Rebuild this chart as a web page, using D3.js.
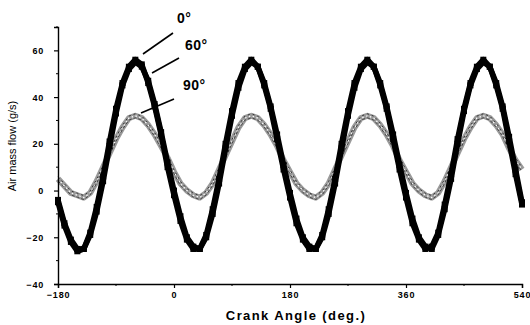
<!DOCTYPE html>
<html>
<head>
<meta charset="utf-8">
<script src="https://cdn.jsdelivr.net/npm/d3@7/dist/d3.min.js"></script>
<style>
  html, body { margin: 0; padding: 0; background: #fff; }
  svg { display: block; }
  text { font-family: Arial, "Liberation Sans", sans-serif; fill: #000; }
</style>
</head>
<body>
<svg id="chart" width="530" height="325"></svg>
<script>
// Crank angle samples (deg.), every 10 degrees
const angles = d3.range(-180, 541, 10);

// Air mass flow (g/s) for each valve phase setting
const flow0 = [
  -4, -14, -21, -25, -25, -19, -9, 4, 19, 33, 45, 52, 55, 53, 47, 37, 25, 12, 0, -11,
  -20, -24, -25, -20, -10, 3, 18, 32, 44, 52, 55, 53, 46, 36, 24, 11, -1, -12, -20, -24,
  -25, -20, -10, 3, 18, 32, 44, 52, 55, 53, 46, 36, 24, 11, -1, -12, -20, -24, -25, -19,
  -8, 5, 20, 34, 45, 52, 55, 53, 46, 36, 23, 9, -5
];
const flow60 = [
  -5, -15, -22, -26, -25, -18, -7, 6, 21, 35, 46, 53, 56, 54, 46, 36, 24, 10, -2, -13,
  -21, -25, -25, -19, -8, 5, 20, 34, 46, 53, 56, 53, 45, 35, 22, 9, -3, -14, -21, -25,
  -25, -19, -8, 5, 20, 34, 46, 53, 56, 53, 45, 35, 22, 9, -3, -14, -21, -25, -24, -18,
  -6, 7, 22, 35, 46, 53, 56, 53, 45, 35, 21, 7, -6
];
const flow90 = [
  5, 2, -1, -2, -3, -1, 4, 10, 16, 22, 27, 31, 32, 31, 28, 24, 19, 14, 8, 3,
  0, -2, -3, -1, 3, 9, 15, 21, 27, 31, 32, 31, 28, 24, 19, 13, 8, 3, 0, -2,
  -3, -1, 3, 9, 15, 21, 27, 31, 32, 31, 28, 24, 19, 13, 8, 3, 0, -2, -3, -1,
  4, 10, 16, 22, 27, 31, 32, 31, 28, 24, 18, 13, 9
];

const xTicks = [-180, 0, 180, 360, 540];
const xMinor = [-90, 90, 270, 450];
const yTicks = [-40, -20, 0, 20, 40, 60];
const yMinor = [-30, -10, 10, 30, 50, 70];

const seriesLabels = ["0°", "60°", "90°"];

const svg = d3.select("#chart");
const x = d3.scaleLinear().domain([-180, 540]).range([58, 522]);
const y = d3.scaleLinear().domain([-40, 70]).range([284, 27]);

const toPts = vals => angles.map((a, i) => [a, vals[i]]);
const line = d3.line().x(d => x(d[0])).y(d => y(d[1]));

// 90° trace: speckled grey band
const g90 = svg.append("g");
g90.append("path").datum(toPts(flow90))
  .attr("d", line).attr("fill", "none")
  .attr("stroke", "#9a9a9a").attr("stroke-width", 6).attr("stroke-linejoin", "round");
g90.append("path").datum(toPts(flow90))
  .attr("d", line).attr("fill", "none")
  .attr("stroke", "#fff").attr("stroke-width", 1.2).attr("stroke-dasharray", "1.5,2.5");
g90.append("path").datum(toPts(flow90))
  .attr("d", line).attr("fill", "none").attr("transform", "translate(0,-2)")
  .attr("stroke", "#333").attr("stroke-width", 1).attr("stroke-dasharray", "2,3");
g90.append("path").datum(toPts(flow90))
  .attr("d", line).attr("fill", "none").attr("transform", "translate(0,2)")
  .attr("stroke", "#444").attr("stroke-width", 1).attr("stroke-dasharray", "3,2");

// 0° and 60° traces: heavy black bands
[flow60, flow0].forEach(vals => {
  const g = svg.append("g");
  g.append("path").datum(toPts(vals))
    .attr("d", line).attr("fill", "none")
    .attr("stroke", "#000").attr("stroke-width", 5.5).attr("stroke-linejoin", "round");
  g.selectAll("rect").data(toPts(vals)).join("rect")
    .attr("x", d => x(d[0]) - 3).attr("y", d => y(d[1]) - 3)
    .attr("width", 6).attr("height", 6).attr("fill", "#000");
});

// Axes
const xAxis = svg.append("g").attr("transform", "translate(0,284)")
  .call(d3.axisBottom(x).tickValues(xTicks).tickSize(4).tickPadding(4)
    .tickFormat(d3.format("d")));
xAxis.append("g").selectAll("line").data(xMinor).join("line")
  .attr("x1", d => x(d)).attr("x2", d => x(d)).attr("y1", 0).attr("y2", 2)
  .attr("stroke", "#000");

const yAxis = svg.append("g").attr("transform", "translate(58,0)")
  .call(d3.axisLeft(y).tickValues(yTicks).tickSize(4).tickPadding(10)
    .tickFormat(d3.format("d")));
yAxis.append("g").selectAll("line").data(yMinor).join("line")
  .attr("y1", d => y(d)).attr("y2", d => y(d)).attr("x1", 0).attr("x2", -2)
  .attr("stroke", "#000");

[xAxis, yAxis].forEach(a => {
  a.select(".domain").attr("stroke", "#000").attr("stroke-width", 1.4);
  a.selectAll(".tick line").attr("stroke", "#000").attr("stroke-width", 1.2);
  a.selectAll(".tick text").attr("font-size", 9).attr("font-weight", "bold")
    .attr("letter-spacing", "0.8px").attr("fill", "#000")
    .attr("font-family", "Arial, 'Liberation Sans', sans-serif");
});
yAxis.selectAll(".tick text").attr("dy", "0.35em");

// Axis titles
svg.append("text").attr("x", 296).attr("y", 320).attr("text-anchor", "middle")
  .attr("font-size", 13).attr("font-weight", "bold").attr("letter-spacing", "1.4px")
  .text("Crank Angle (deg.)");
svg.append("text").attr("transform", "translate(16,146) rotate(-90)")
  .attr("text-anchor", "middle").attr("font-size", 11)
  .text("Air mass flow (g/s)");

// Phase labels with leader lines to their traces
const labels = [
  { t: seriesLabels[0], lx: 177, ly: 23, x1: 173, y1: 33, x2: 143, y2: 54 },
  { t: seriesLabels[1], lx: 185, ly: 50, x1: 179, y1: 58, x2: 152, y2: 73 },
  { t: seriesLabels[2], lx: 183, ly: 90, x1: 174, y1: 99, x2: 141, y2: 113 }
];
const lg = svg.append("g");
lg.selectAll("text").data(labels).join("text")
  .attr("x", d => d.lx).attr("y", d => d.ly)
  .attr("font-size", 14).attr("font-weight", "bold").attr("letter-spacing", "0.5px")
  .text(d => d.t);
lg.selectAll("line").data(labels).join("line")
  .attr("x1", d => d.x1).attr("y1", d => d.y1).attr("x2", d => d.x2).attr("y2", d => d.y2)
  .attr("stroke", "#000").attr("stroke-width", 1.6);
</script>
</body>
</html>
